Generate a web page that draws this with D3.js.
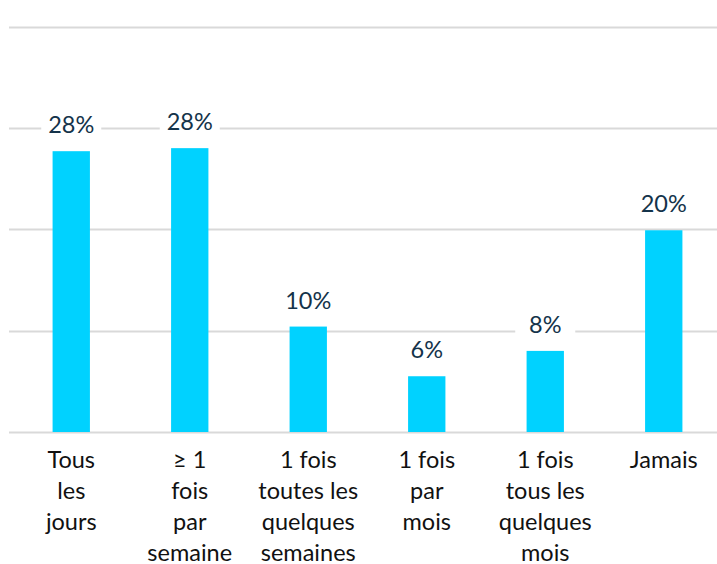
<!DOCTYPE html>
<html>
<head>
<meta charset="utf-8">
<script src="https://cdn.jsdelivr.net/npm/d3@7"></script>
<style>
  body { margin: 0; background: #fff; }
  text { font-family: Lato, "Open Sans", sans-serif; }
</style>
</head>
<body>
<div id="chart"></div>
<script>
// data
var categories = ['Tous les jours', '≥ 1 fois par semaine', '1 fois toutes les quelques semaines',
                  '1 fois par mois', '1 fois tous les quelques mois', 'Jamais'];
var tickLines = [
  ['Tous', 'les', 'jours'],
  ['≥ 1', 'fois', 'par', 'semaine'],
  ['1 fois', 'toutes les', 'quelques', 'semaines'],
  ['1 fois', 'par', 'mois'],
  ['1 fois', 'tous les', 'quelques', 'mois'],
  ['Jamais']
];
var values = [27.7, 28.0, 10.4, 5.5, 8.0, 19.9];
var valueLabels = ['28%', '28%', '10%', '6%', '8%', '20%'];
var gridTicks = [0, 10, 20, 30, 40];

var width = 717, height = 564;
var margin = {top: 26.5, bottom: 132, left: 12, right: -6};

var svg = d3.select('#chart').append('svg')
  .attr('width', width)
  .attr('height', height);

var x = d3.scaleBand()
  .domain(categories)
  .range([margin.left, width - margin.right])
  .paddingInner(0.685)
  .paddingOuter(0.3425);

var y = d3.scaleLinear()
  .domain([0, 40])
  .range([height - margin.bottom, margin.top]);

// gridlines
svg.append('g').attr('class', 'grid')
  .selectAll('line')
  .data(gridTicks)
  .enter().append('line')
    .attr('x1', 9)
    .attr('x2', width)
    .attr('y1', function(d) { return Math.round(y(d)) + 0.5; })
    .attr('y2', function(d) { return Math.round(y(d)) + 0.5; })
    .attr('stroke', '#d9d9d9')
    .attr('stroke-width', 2);

// bars
svg.selectAll('.bar')
  .data(values)
  .enter().append('rect')
    .attr('class', 'bar')
    .attr('x', function(d, i) { return x(categories[i]); })
    .attr('y', function(d) { return y(d); })
    .attr('width', x.bandwidth())
    .attr('height', function(d) { return y(0) - y(d); })
    .attr('fill', '#00d2ff');

// value labels with white knockout
var labels = svg.selectAll('.bar-label')
  .data(values)
  .enter().append('g')
    .attr('class', 'bar-label')
    .attr('transform', function(d, i) {
      return 'translate(' + (x(categories[i]) + x.bandwidth() / 2) + ',' + (y(d) - 26) + ')';
    });

labels.append('rect')
  .attr('x', -30).attr('y', -14)
  .attr('width', 60).attr('height', 28)
  .attr('fill', '#fff');

labels.append('text')
  .attr('text-anchor', 'middle')
  .attr('dy', '0.35em')
  .attr('font-size', 23.5)
  .attr('fill', '#14334a')
  .text(function(d, i) { return valueLabels[i]; });

// category labels
var ticks = svg.selectAll('.tick-label')
  .data(categories)
  .enter().append('text')
    .attr('class', 'tick-label')
    .attr('text-anchor', 'middle')
    .attr('font-size', 23.5)
    .attr('fill', '#111');

ticks.each(function(d, i) {
  var t = d3.select(this);
  tickLines[i].forEach(function(line, j) {
    t.append('tspan')
      .attr('x', x(d) + x.bandwidth() / 2)
      .attr('y', y(0) + 28 + j * 31)
      .attr('dy', '0.35em')
      .text(line);
  });
});
</script>
</body>
</html>
